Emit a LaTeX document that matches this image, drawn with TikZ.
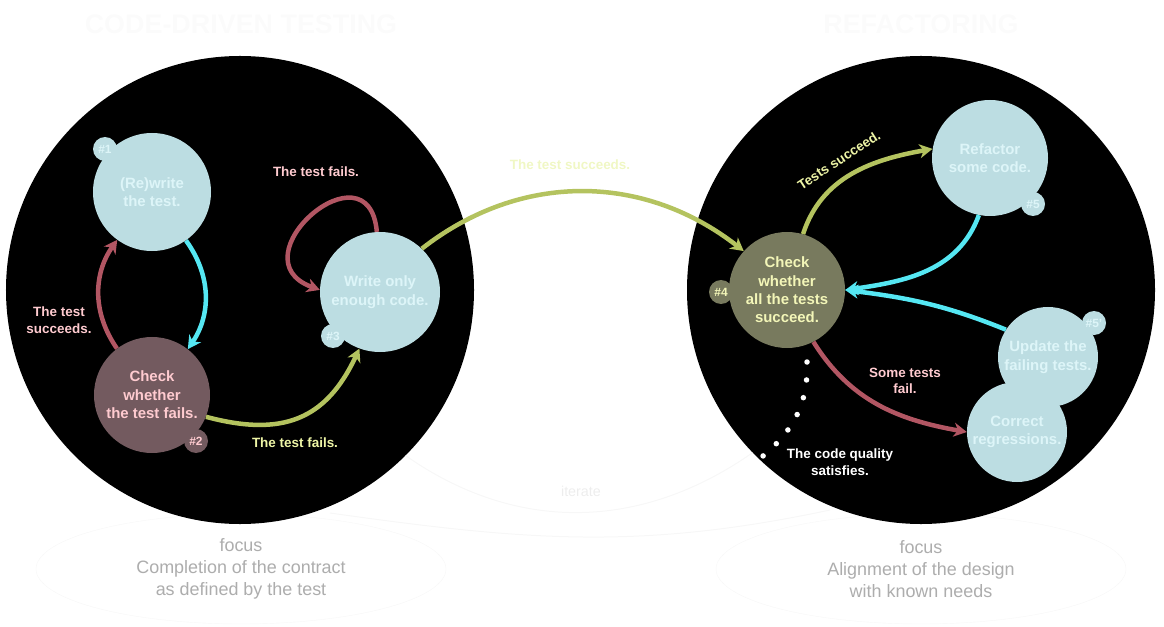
\documentclass[tikz,border=0pt]{standalone}
\usepackage{fontspec}
\setmainfont{Liberation Sans}
\usetikzlibrary{arrows.meta,shapes.geometric}
\definecolor{lblue}{HTML}{BCDDE2}
\definecolor{lbtext}{HTML}{DDF5F8}
\definecolor{mauve}{HTML}{735A5F}
\definecolor{pinkt}{HTML}{FFCBD0}
\definecolor{olivec}{HTML}{787A5E}
\definecolor{yelt}{HTML}{F3F6B8}
\definecolor{cyanarr}{HTML}{55E7F3}
\definecolor{redarr}{HTML}{B25663}
\definecolor{greenarr}{HTML}{B4C35F}
\definecolor{greent}{HTML}{EEF5A6}
\definecolor{paleg}{HTML}{F0F7C4}
\tikzset{
  bigc/.style={circle, fill=black, inner sep=0pt, minimum size=468bp},
  bub/.style={circle, inner sep=0pt, align=center, font=\bfseries\fontsize{15}{18.5}\selectfont, text=lbtext},
  tagc/.style={circle, inner sep=0pt, minimum size=24bp, font=\bfseries\fontsize{12}{12}\selectfont, text=lbtext},
  lbl/.style={align=center, inner sep=0pt, font=\bfseries\fontsize{13.5}{16.7}\selectfont},
  arr/.style={line width=4.5bp, -{Stealth[length=13bp, width=14bp, inset=4bp]}},
  ttl/.style={font=\bfseries\fontsize{27}{30}\selectfont, text=black!1.5},
  fell/.style={ellipse, draw=black!3, fill=white, minimum width=410bp, minimum height=110bp, align=center, inner sep=0pt, font=\fontsize{18}{22}\selectfont, text=black!32},
  band/.style={draw=black!3, line width=1bp},
  dotl/.style={draw=white, line width=5.5bp, line cap=round, dash pattern=on 0pt off 18bp}
}
\begin{document}
\begin{tikzpicture}[x=1bp,y=1bp]
\useasboundingbox (0,0) rectangle (1164,-627);
% titles
\node[ttl] (T1) at (241,-24) {CODE-DRIVEN TESTING};
\node[ttl] (T2) at (921,-24) {REFACTORING};
% focus ellipses
\node[fell] (E1) at (241,-569) {focus\\Completion of the contract\\as defined by the test};
\node[fell] (E2) at (921,-569) {focus\\Alignment of the design\\with known needs};
% big circles
\node[bigc] (LC) at (240,-290) {};
\node[bigc] (RC) at (921,-290) {};
% iterate band
\draw[band] (LC.-45) to[out=-35, in=-145] (RC.-136);
\coordinate (bandL) at (330,-513);
\coordinate (bandR) at (830,-510);
\draw[band] (bandL) to[out=-8, in=-168] (bandR);
\node[font=\fontsize{14.4}{16}\selectfont, text=black!7] (it) at (581,-491) {iterate};
% nodes left
\node[bub, fill=lblue, minimum size=118bp] (n1) at (152,-192) {(Re)write\\the test.};
\node[bub, fill=mauve, text=pinkt, minimum size=116bp] (n2) at (152,-395) {Check\\whether\\the test fails.};
\node[bub, fill=lblue, minimum size=120bp] (n3) at (380,-292) {Write only\\enough code.};
% nodes right
\node[bub, fill=olivec, text=yelt, minimum size=116bp] (n4) at (787,-290) {Check\\whether\\all the tests\\succeed.};
\node[bub, fill=lblue, minimum size=116bp] (n5) at (990,-158) {Refactor\\some code.};
\node[bub, fill=lblue, minimum size=100bp] (n6) at (1048,-357) {Update the\\failing tests.};
\node[bub, fill=lblue, minimum size=100bp] (n7) at (1017,-432) {Correct\\regressions.};
% tags
\node[tagc, fill=lblue] (t1) at (105,-149) {\#1};
\node[tagc, fill=mauve, text=pinkt] (t2) at (196,-441) {\#2};
\node[tagc, fill=lblue] (t3) at (333,-336) {\#3};
\node[tagc, fill=olivec, text=yelt] (t4) at (721,-292) {\#4};
\node[tagc, fill=lblue] (t5) at (1033,-204) {\#5};
\node[tagc, fill=lblue] (t6) at (1094,-323) {\#5'};
% labels
\node[lbl, text=pinkt] (l1) at (316,-172) {The test fails.};
\node[lbl, text=pinkt] (l2) at (59,-320) {The test\\succeeds.};
\node[lbl, text=greent] (l3) at (295,-443) {The test fails.};
\node[lbl, text=paleg] (l4) at (570,-165) {The test succeeds.};
\node[lbl, text=greent, rotate=33] (l5) at (839,-160) {Tests succeed.};
\node[lbl, text=pinkt] (l6) at (905,-381) {Some tests\\fail.};
\node[lbl, text=white] (l7) at (840,-462) {The code quality\\satisfies.};
% arrows left
\draw[arr, cyanarr] (n1.-55) to[bend left=35] (n2.52);
\draw[arr, redarr] (n2.127) to[bend left=35] (n1.-126);
\draw[arr, redarr] (n3.93) to[out=95, in=160, looseness=2.9] (n3.178);
\draw[arr, greenarr] (n2.-22) to[out=-15, in=-115, looseness=1.2] (n3.-110);
\draw[arr, greenarr] (n3.46) to[out=38, in=142] (n4.138);
% arrows right
\draw[arr, greenarr] (n4.74) to[out=72, in=190] (n5.171);
\draw[arr, cyanarr] (n5.-101) to[out=-110, in=8] (n4.0);
\draw[arr, cyanarr] (n6.147) to[out=158, in=-7] (n4.0);
\draw[arr, redarr] (n4.-63) to[out=-58, in=170] (n7.180);
% dotted
\coordinate (d1) at (807,-362);
\coordinate (d2) at (763,-456);
\draw[dotl] (d1) to[out=-88, in=40] (d2);
\end{tikzpicture}
\end{document}
